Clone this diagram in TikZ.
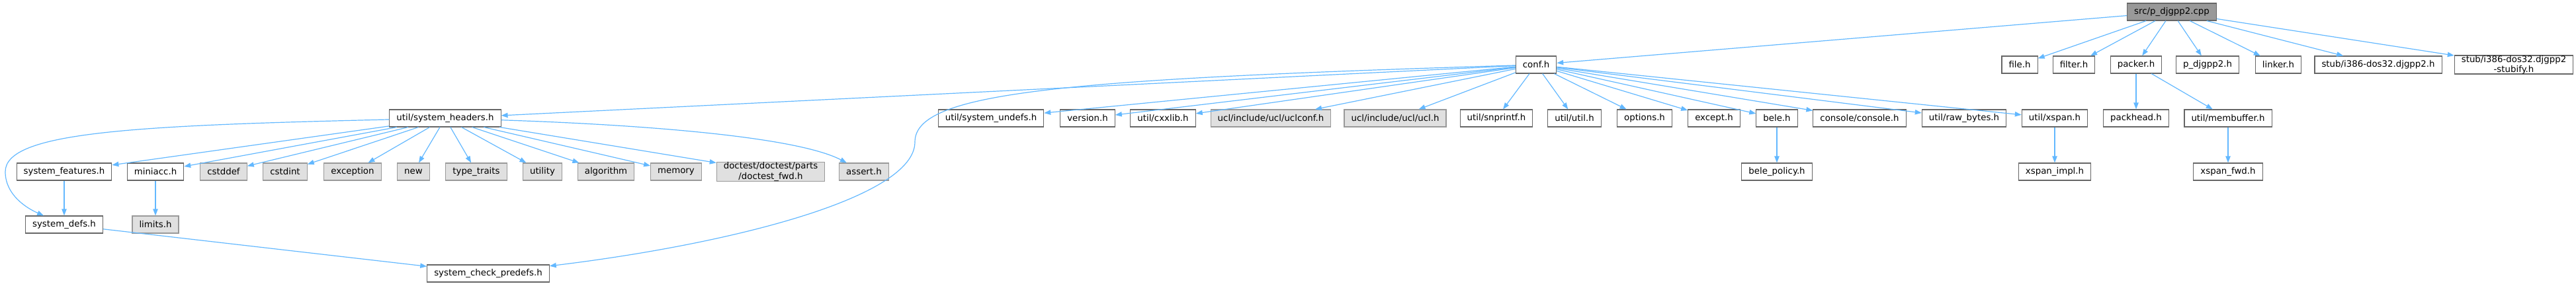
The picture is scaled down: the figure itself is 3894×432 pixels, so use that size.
\documentclass[tikz,border=0pt]{standalone}
\usepackage{fontspec}
\setmainfont{DejaVu Sans}
\usepackage{tikz}
\usetikzlibrary{arrows.meta}
\definecolor{edgeblue}{HTML}{63B8FF}
\definecolor{docline}{HTML}{666666}
\definecolor{extline}{HTML}{999999}
\definecolor{extfill}{HTML}{E0E0E0}
\definecolor{rootfill}{HTML}{999999}
\begin{document}
\begin{tikzpicture}[x=0.75pt,y=-0.75pt,font=\fontsize{10}{11.3}\selectfont,
  hdr/.style={draw=docline,fill=white,line width=0.8pt,inner xsep=7.9pt,inner ysep=0pt,minimum height=19.5pt,align=center},
  exthdr/.style={hdr,draw=extline,fill=extfill},
  rootbox/.style={hdr,fill=rootfill},
  dep/.style={draw=edgeblue,line width=0.9pt,-{Triangle[length=7.5pt,width=5.5pt]}}]
\path[use as bounding box] (0,0) rectangle (3894,432);
% top row
\node[rootbox] (root) at (3283,18) {src/p\_djgpp2.cpp};
\node[hdr] (conf) at (2322,98) {conf.h};
\node[hdr] (file) at (3053,98) {file.h};
\node[hdr] (filter) at (3135,98) {filter.h};
\node[hdr] (packer) at (3229,98) {packer.h};
\node[hdr] (pdj) at (3337,98) {p\_djgpp2.h};
\node[hdr] (linker) at (3444,98) {linker.h};
\node[hdr] (stubdj) at (3595,98) {stub/i386-dos32.djgpp2.h};
\node[hdr] (stubify) at (3800,98) {stub/i386-dos32.djgpp2\\-stubify.h};
% second row
\node[hdr] (sh) at (673,179) {util/system\_headers.h};
\node[hdr] (undefs) at (1498,179) {util/system\_undefs.h};
\node[hdr] (version) at (1644,179) {version.h};
\node[hdr] (cxxlib) at (1758,179) {util/cxxlib.h};
\node[exthdr] (uclconf) at (1921,179) {ucl/include/ucl/uclconf.h};
\node[exthdr] (ucl) at (2109,179) {ucl/include/ucl/ucl.h};
\node[hdr] (snprintf) at (2262,179) {util/snprintf.h};
\node[hdr] (util) at (2380,179) {util/util.h};
\node[hdr] (options) at (2486,179) {options.h};
\node[hdr] (except) at (2591,179) {except.h};
\node[hdr] (bele) at (2686,179) {bele.h};
\node[hdr] (console) at (2811,179) {console/console.h};
\node[hdr] (rawbytes) at (2969,179) {util/raw\_bytes.h};
\node[hdr] (xspan) at (3106,179) {util/xspan.h};
\node[hdr] (packhead) at (3229,179) {packhead.h};
\node[hdr] (membuf) at (3368,179) {util/membuffer.h};
% third row
\node[hdr] (sysfeat) at (97,260) {system\_features.h};
\node[hdr] (miniacc) at (235,260) {miniacc.h};
\node[exthdr] (cstddef) at (338,260) {cstddef};
\node[exthdr] (cstdint) at (431,260) {cstdint};
\node[exthdr] (exception) at (533,260) {exception};
\node[exthdr] (new) at (625,260) {new};
\node[exthdr] (typetraits) at (720,260) {type\_traits};
\node[exthdr] (utility) at (820,260) {utility};
\node[exthdr] (algorithm) at (916,260) {algorithm};
\node[exthdr] (memory) at (1022,260) {memory};
\node[exthdr] (doctest) at (1165,260) {doctest/doctest/parts\\/doctest\_fwd.h};
\node[exthdr] (assert) at (1306,260) {assert.h};
\node[hdr] (belepol) at (2686,260) {bele\_policy.h};
\node[hdr] (xspanimpl) at (3106,260) {xspan\_impl.h};
\node[hdr] (xspanfwd) at (3368,260) {xspan\_fwd.h};
% bottom rows
\node[hdr] (sysdefs) at (97,340) {system\_defs.h};
\node[exthdr] (limits) at (235,340) {limits.h};
\node[hdr] (predefs) at (738,414) {system\_check\_predefs.h};
% edges
\foreach \c in {conf,file,filter,packer,pdj,linker,stubdj,stubify} {\draw[dep] (root)--(\c);}
\foreach \c in {sh,undefs,version,cxxlib,uclconf,ucl,snprintf,util,options,except,bele,console,rawbytes,xspan} {\draw[dep] (conf)--(\c);}
\foreach \c in {sysfeat,miniacc,cstddef,cstdint,exception,new,typetraits,utility,algorithm,memory,doctest} {\draw[dep] (sh)--(\c);}
\draw[dep] (conf) .. controls (1600,120) and (1383,140) .. (1383,215) .. controls (1383,300) and (1100,370) .. (predefs);
\draw[dep] (sh) .. controls (200,190) and (8,200) .. (8,260) .. controls (8,295) and (40,315) .. (sysdefs);
\draw[dep] (sh) .. controls (950,188) and (1200,205) .. (assert);
\draw[dep] (sysfeat)--(sysdefs); \draw[dep] (miniacc)--(limits); \draw[dep] (sysdefs)--(predefs);
\draw[dep] (bele)--(belepol); \draw[dep] (xspan)--(xspanimpl);
\draw[dep] (packer)--(packhead); \draw[dep] (packer)--(membuf); \draw[dep] (membuf)--(xspanfwd);
\end{tikzpicture}
\end{document}
